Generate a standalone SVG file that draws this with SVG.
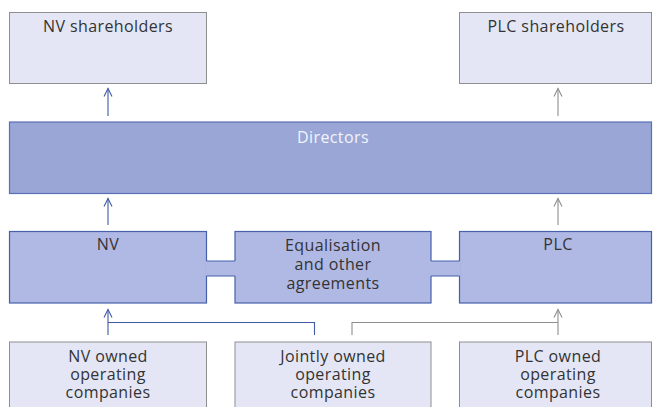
<svg xmlns="http://www.w3.org/2000/svg" width="653" height="407" viewBox="0 0 653 407">
  <style>
    .light { fill: #e4e6f6; stroke: #8e8e8e; stroke-width: 1; }
    .dir { fill: #99a6d6; stroke: #5a6fb6; stroke-width: 1.2; }
    .mid { fill: #b0b8e4; stroke: #4660ab; stroke-width: 1.2; }
    .band { fill: #b0b8e4; stroke: none; }
    .bandline { stroke: #4660ab; stroke-width: 1.2; fill: none; }
    text { font-family: "Open Sans", "Noto Sans", sans-serif; font-size: 16px; letter-spacing: 0.4px; fill: #333333; text-anchor: middle; }
    .wt { fill: #f2f4fb; }
    .blue { stroke: #3f5aa6; stroke-width: 1.1; fill: none; }
    .gray { stroke: #8e8e8e; stroke-width: 1.1; fill: none; }
  </style>
  <defs>
    <marker id="ab" markerWidth="12" markerHeight="12" refX="10" refY="6" orient="auto" markerUnits="userSpaceOnUse" viewBox="0 0 12 12">
      <path d="M2,2 L10,6 L2,10" fill="none" stroke="#3f5aa6" stroke-width="1.1"/>
    </marker>
    <marker id="ag" markerWidth="12" markerHeight="12" refX="10" refY="6" orient="auto" markerUnits="userSpaceOnUse" viewBox="0 0 12 12">
      <path d="M2,2 L10,6 L2,10" fill="none" stroke="#8e8e8e" stroke-width="1.1"/>
    </marker>
  </defs>

  <g id="nv-shareholders">
    <rect class="light" x="9.5" y="12.5" width="197" height="71"/>
    <text x="108" y="32">NV shareholders</text>
  </g>
  <g id="plc-shareholders">
    <rect class="light" x="459.5" y="12.5" width="192" height="71"/>
    <text x="556" y="32">PLC shareholders</text>
  </g>
  <g id="directors">
    <rect class="dir" x="9.5" y="122" width="642" height="71.5"/>
    <text class="wt" x="333" y="143">Directors</text>
  </g>

  <g id="nv">
    <rect class="mid" x="9.5" y="231.5" width="197" height="71.5"/>
    <text x="108" y="250">NV</text>
  </g>
  <g id="equalisation">
    <rect class="mid" x="235" y="231.5" width="196" height="71.5"/>
    <text x="333" y="250.5"><tspan x="333">Equalisation</tspan><tspan x="333" dy="19">and other</tspan><tspan x="333" dy="19">agreements</tspan></text>
  </g>
  <g id="plc">
    <rect class="mid" x="459.5" y="231.5" width="192" height="71.5"/>
    <text x="558" y="250">PLC</text>
  </g>
  <g id="links">
    <rect class="band" x="205.5" y="261" width="30.5" height="15"/>
    <path class="bandline" d="M206.5,261 H235 M206.5,276 H235"/>
    <rect class="band" x="430" y="261" width="30.5" height="15"/>
    <path class="bandline" d="M431,261 H459.5 M431,276 H459.5"/>
  </g>

  <g id="nv-owned">
    <rect class="light" x="9.5" y="342" width="197" height="70"/>
    <text x="108" y="362"><tspan x="108">NV owned</tspan><tspan x="108" dy="18">operating</tspan><tspan x="108" dy="18">companies</tspan></text>
  </g>
  <g id="jointly-owned">
    <rect class="light" x="235" y="342" width="196" height="70"/>
    <text x="333" y="362"><tspan x="333">Jointly owned</tspan><tspan x="333" dy="18">operating</tspan><tspan x="333" dy="18">companies</tspan></text>
  </g>
  <g id="plc-owned">
    <rect class="light" x="459.5" y="342" width="192" height="70"/>
    <text x="558" y="362"><tspan x="558">PLC owned</tspan><tspan x="558" dy="18">operating</tspan><tspan x="558" dy="18">companies</tspan></text>
  </g>

  <g id="connectors">
    <line class="blue" x1="108" y1="116" x2="108" y2="88.5" marker-end="url(#ab)"/>
    <line class="gray" x1="558" y1="116" x2="558" y2="88.5" marker-end="url(#ag)"/>
    <line class="blue" x1="108" y1="225" x2="108" y2="198.5" marker-end="url(#ab)"/>
    <line class="gray" x1="558" y1="225" x2="558" y2="198.5" marker-end="url(#ag)"/>
    <line class="blue" x1="108" y1="335" x2="108" y2="309.5" marker-end="url(#ab)"/>
    <path class="blue" d="M108,322.5 H314.5 V335"/>
    <line class="gray" x1="558" y1="335" x2="558" y2="309.5" marker-end="url(#ag)"/>
    <path class="gray" d="M352,335 V322.5 H558"/>
  </g>
</svg>
